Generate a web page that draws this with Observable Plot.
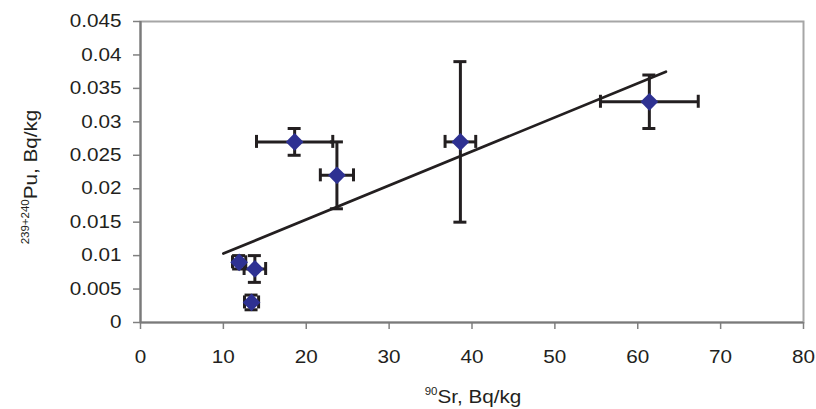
<!DOCTYPE html>
<html><head><meta charset="utf-8">
<script src="https://cdn.jsdelivr.net/npm/d3@7"></script>
<script src="https://cdn.jsdelivr.net/npm/@observablehq/plot@0.6"></script>
<style>body{margin:0;background:#fff}</style>
</head><body><div id="chart"></div>
<script>
// 90Sr activity (Bq/kg) and its error
const sr    = [11.9, 13.8, 13.4, 18.6, 23.7, 38.6, 61.4];
const srErr = [0.8, 1.3, 0.85, 4.6, 2.0, 1.85, 5.9];
// 239+240Pu activity (Bq/kg) and its error
const pu    = [0.009, 0.008, 0.003, 0.027, 0.022, 0.027, 0.033];
const puErr = [0.001, 0.002, 0.0011, 0.002, 0.005, 0.012, 0.004];
// trend line end points
const trendX = [10, 63.4];
const trendY = [0.0103, 0.0375];
// ticks
const xTicks = [0, 10, 20, 30, 40, 50, 60, 70, 80];
const yTicks = [0, 0.005, 0.01, 0.015, 0.02, 0.025, 0.03, 0.035, 0.04, 0.045];

const data = sr.map((x, i) => ({x, y: pu[i], ex: srErr[i], ey: puErr[i]}));
const trend = trendX.map((x, i) => ({x, y: trendY[i]}));

const W = 816, H = 409, mL = 140, mR = 13, mT = 21, mB = 87;
const capX = 6.5 * 80 / (W - mL - mR);
const capY = 6.5 * 0.045 / (H - mT - mB);
const ink = "#231f20";
const barStyle = {stroke: ink, strokeWidth: 3};

const plot = Plot.plot({
  width: W, height: H,
  marginLeft: mL, marginRight: mR, marginTop: mT, marginBottom: mB,
  style: {fontFamily: "'Liberation Sans', Arial, sans-serif", fontSize: "18px", background: "#fff"},
  x: {domain: [0, 80]},
  y: {domain: [0, 0.045]},
  marks: [
    Plot.frame({stroke: "#a6a6a6", strokeWidth: 2}),
    Plot.axisX({ticks: xTicks, tickFormat: d => String(d), tickSize: 7, tickPadding: 21, stroke: "#808080", strokeWidth: 1.5, fill: ink, label: null}),
    Plot.axisY({ticks: yTicks, tickFormat: d => String(d), tickSize: 7, tickPadding: 12, stroke: "#808080", strokeWidth: 1.5, fill: ink, label: null}),
    Plot.ruleX([0], {stroke: "#7a7a7a", strokeWidth: 2.2}),
    Plot.ruleY([0], {stroke: "#7a7a7a", strokeWidth: 2.2}),
    Plot.line(trend, {x: "x", y: "y", stroke: ink, strokeWidth: 2.7}),
    Plot.ruleY(data, {y: "y", x1: d => d.x - d.ex, x2: d => d.x + d.ex, ...barStyle}),
    Plot.ruleX(data, {x: "x", y1: d => d.y - d.ey, y2: d => d.y + d.ey, ...barStyle}),
    Plot.ruleX(data, {x: d => d.x - d.ex, y1: d => d.y - capY, y2: d => d.y + capY, ...barStyle}),
    Plot.ruleX(data, {x: d => d.x + d.ex, y1: d => d.y - capY, y2: d => d.y + capY, ...barStyle}),
    Plot.ruleY(data, {y: d => d.y - d.ey, x1: d => d.x - capX, x2: d => d.x + capX, ...barStyle}),
    Plot.ruleY(data, {y: d => d.y + d.ey, x1: d => d.x - capX, x2: d => d.x + capX, ...barStyle}),
    Plot.dot(data, {x: "x", y: "y", symbol: "diamond2", r: 8, fill: "#2e3192", stroke: "none"})
  ]
});

// widen text horizontally, as in the reference
d3.select(plot).selectAll("text").each(function () {
  const t = this.getAttribute("transform");
  if (t) this.setAttribute("transform", t + " scale(1.15,1)");
  else {
    const x = +this.getAttribute("x") || 0, y = +this.getAttribute("y") || 0;
    this.setAttribute("transform", `translate(${x},${y}) scale(1.15,1) translate(${-x},${-y})`);
  }
});

const svg = d3.select(plot);
const xt = svg.append("text")
  .attr("transform", "translate(473,403) scale(1.15,1)")
  .attr("text-anchor", "middle").attr("fill", ink).style("font-size", "18px");
xt.append("tspan").style("font-size", "10px").attr("dy", -8).text("90");
xt.append("tspan").attr("dy", 8).text("Sr, Bq/kg");

const yt = svg.append("text")
  .attr("transform", "translate(37,177) rotate(-90) scale(1.15,1)")
  .attr("text-anchor", "middle").attr("fill", ink).style("font-size", "18px");
yt.append("tspan").style("font-size", "10px").attr("dy", -8).text("239+240");
yt.append("tspan").attr("dy", 8).text("Pu, Bq/kg");

document.getElementById("chart").appendChild(plot);
</script>
</body></html>
